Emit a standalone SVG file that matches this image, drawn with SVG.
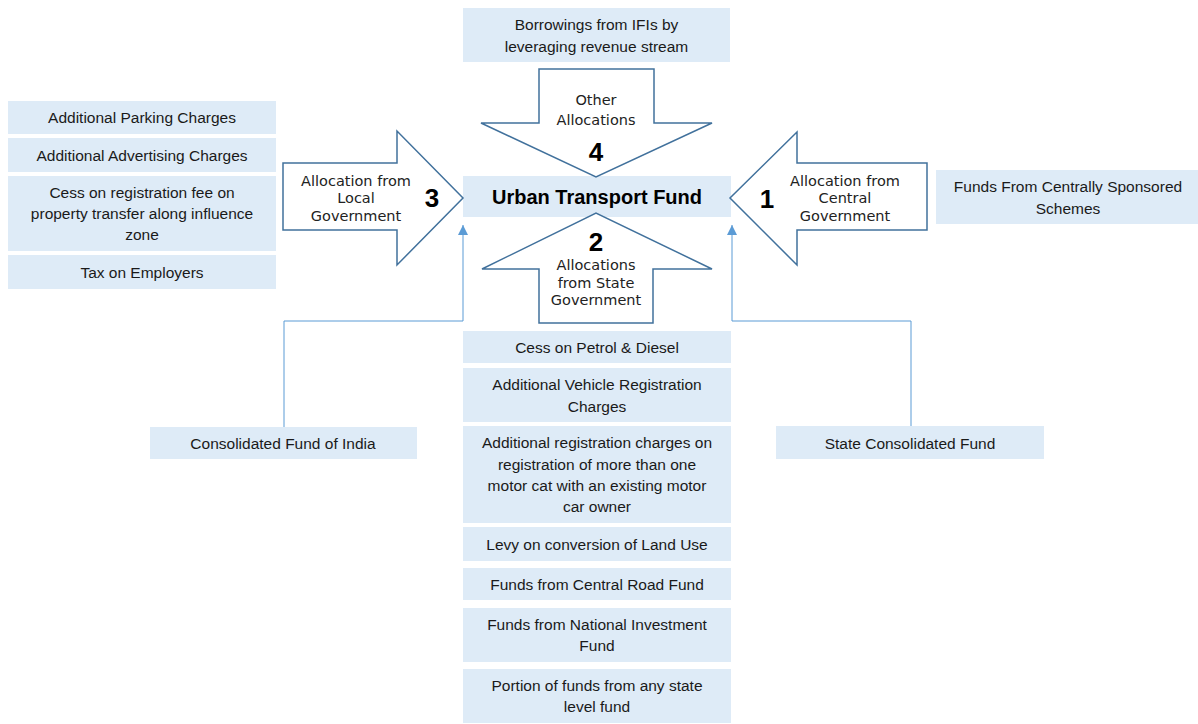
<svg xmlns="http://www.w3.org/2000/svg" width="1198" height="724" viewBox="0 0 1198 724">
<defs>
<marker id="tri" viewBox="0 0 10 10" refX="10" refY="5" markerWidth="10" markerHeight="10" markerUnits="userSpaceOnUse" orient="auto">
<path d="M0,0 L10,5 L0,10 z" fill="#5b9bd5"/>
</marker>
<style>
.box{fill:#deebf7;}
.t{font-family:"Liberation Sans",Arial,sans-serif;font-size:15.5px;fill:#1a1a1a;text-anchor:middle;dominant-baseline:central;}
.big{font-family:"Liberation Sans",Arial,sans-serif;font-size:20px;font-weight:bold;fill:#000;text-anchor:middle;dominant-baseline:central;}
.arr{fill:#fff;stroke:#41719c;stroke-width:1.5;stroke-linejoin:miter;}
.al{font-family:"DejaVu Sans",sans-serif;font-size:14.5px;fill:#222;text-anchor:middle;dominant-baseline:central;}
.num{font-family:"Liberation Sans",Arial,sans-serif;font-size:26px;font-weight:bold;fill:#000;text-anchor:middle;dominant-baseline:central;}
.con{fill:none;stroke:#5b9bd5;stroke-width:1;}
</style>
</defs>
<rect width="1198" height="724" fill="#fff"/>

<g id="connectors">
<path class="con" d="M284,427 V321 H463 V225" marker-end="url(#tri)"/>
<path class="con" d="M911,426 V321 H732 V225" marker-end="url(#tri)"/>
</g>

<g id="urban-transport-fund">
<rect class="box" x="463" y="176" width="268" height="41"/>
<text class="big" x="597" y="197">Urban Transport Fund</text>
</g>

<g id="arrow-4">
<polygon class="arr" points="539,69 654,69 654,123 712,123 596,177 481,123 539,123"/>
<text class="al" x="596" y="100">Other</text>
<text class="al" x="596" y="120">Allocations</text>
<text class="num" x="596" y="152">4</text>
</g>

<g id="arrow-3">
<polygon class="arr" points="283,163 397,163 397,131 463,198 397,265 397,230 283,230"/>
<text class="al" x="356" y="181">Allocation from</text>
<text class="al" x="356" y="198">Local</text>
<text class="al" x="356" y="216">Government</text>
<text class="num" x="432" y="198">3</text>
</g>

<g id="arrow-1">
<polygon class="arr" points="927,163 797,163 797,132 730,198 797,265 797,230 927,230"/>
<text class="al" x="845" y="181">Allocation from</text>
<text class="al" x="845" y="198">Central</text>
<text class="al" x="845" y="216">Government</text>
<text class="num" x="767" y="199">1</text>
</g>

<g id="arrow-2">
<polygon class="arr" points="539,323 653,323 653,269 712,269 596,213 482,269 539,269"/>
<text class="num" x="596" y="242">2</text>
<text class="al" x="596" y="265">Allocations</text>
<text class="al" x="596" y="283">from State</text>
<text class="al" x="596" y="300">Government</text>
</g>

<g id="borrowings">
<rect class="box" x="463" y="8" width="267" height="54"/>
<text class="t" x="596.5" y="24">Borrowings from IFIs by</text>
<text class="t" x="596.5" y="46">leveraging revenue stream</text>
</g>

<g id="parking">
<rect class="box" x="8" y="101" width="268" height="33"/>
<text class="t" x="142" y="117">Additional Parking Charges</text>
</g>
<g id="advertising">
<rect class="box" x="8" y="138" width="268" height="34"/>
<text class="t" x="142" y="155">Additional Advertising Charges</text>
</g>
<g id="cess-registration">
<rect class="box" x="8" y="176" width="268" height="75"/>
<text class="t" x="142" y="192">Cess on registration fee on</text>
<text class="t" x="142" y="213">property transfer along influence</text>
<text class="t" x="142" y="234">zone</text>
</g>
<g id="tax-employers">
<rect class="box" x="8" y="255" width="268" height="34"/>
<text class="t" x="142" y="272">Tax on Employers</text>
</g>

<g id="centrally-sponsored">
<rect class="box" x="936" y="170" width="262" height="54"/>
<text class="t" x="1068" y="186">Funds From Centrally Sponsored</text>
<text class="t" x="1068" y="208">Schemes</text>
</g>

<g id="consolidated-india">
<rect class="box" x="150" y="427" width="267" height="32"/>
<text class="t" x="283" y="443">Consolidated Fund of India</text>
</g>
<g id="state-consolidated">
<rect class="box" x="776" y="426" width="268" height="33"/>
<text class="t" x="910" y="443">State Consolidated Fund</text>
</g>

<g id="cess-petrol">
<rect class="box" x="463" y="331" width="268" height="32"/>
<text class="t" x="597" y="347">Cess on Petrol &amp; Diesel</text>
</g>
<g id="vehicle-registration">
<rect class="box" x="463" y="368" width="268" height="54"/>
<text class="t" x="597" y="384">Additional Vehicle Registration</text>
<text class="t" x="597" y="406">Charges</text>
</g>
<g id="additional-registration">
<rect class="box" x="463" y="426" width="268" height="97"/>
<text class="t" x="597" y="442">Additional registration charges on</text>
<text class="t" x="597" y="464">registration of more than one</text>
<text class="t" x="597" y="485">motor cat with an existing motor</text>
<text class="t" x="597" y="506">car owner</text>
</g>
<g id="levy">
<rect class="box" x="463" y="527" width="268" height="34"/>
<text class="t" x="597" y="544">Levy on conversion of Land Use</text>
</g>
<g id="central-road">
<rect class="box" x="463" y="568" width="268" height="32"/>
<text class="t" x="597" y="584">Funds from Central Road Fund</text>
</g>
<g id="national-investment">
<rect class="box" x="463" y="608" width="268" height="54"/>
<text class="t" x="597" y="624">Funds from National Investment</text>
<text class="t" x="597" y="645">Fund</text>
</g>
<g id="portion-state">
<rect class="box" x="463" y="669" width="268" height="54"/>
<text class="t" x="597" y="685">Portion of funds from any state</text>
<text class="t" x="597" y="706">level fund</text>
</g>
</svg>
